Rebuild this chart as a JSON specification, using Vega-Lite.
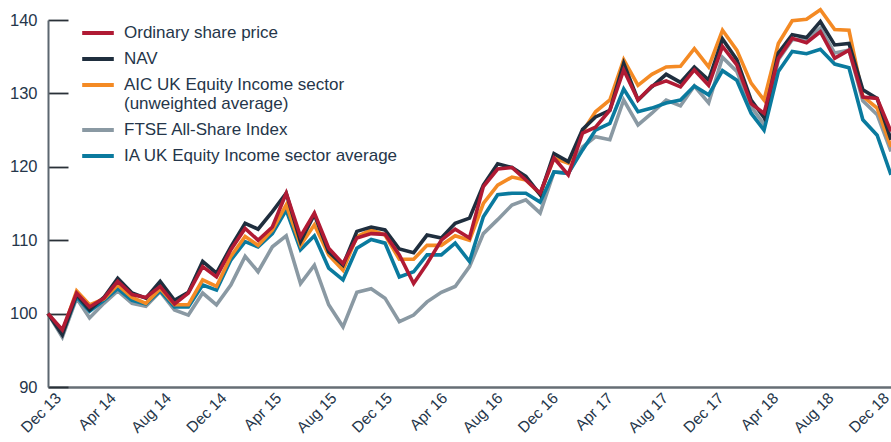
{
  "$schema": "https://vega.github.io/schema/vega-lite/v6.json",
  "width": 843,
  "height": 367,
  "autosize": {"type": "none"},
  "padding": {"left": 48, "top": 20, "right": 0, "bottom": 55},
  "background": "white",
  "config": {"view": {"stroke": null}, "font": "Liberation Sans"},
  "data": {"values": [
    {"m": "2013-12-01", "osp": 100, "nav": 100, "aic": 100, "ftse": 100, "ia": 100},
    {"m": "2014-01-01", "osp": 97.8, "nav": 97.1, "aic": 97.5, "ftse": 96.8, "ia": 97.3},
    {"m": "2014-02-01", "osp": 102.8, "nav": 102.6, "aic": 103.1, "ftse": 102.1, "ia": 102.3},
    {"m": "2014-03-01", "osp": 100.9, "nav": 100.5, "aic": 101.2, "ftse": 99.4, "ia": 100.3},
    {"m": "2014-04-01", "osp": 102.1, "nav": 102.2, "aic": 102.0, "ftse": 101.4, "ia": 101.8},
    {"m": "2014-05-01", "osp": 104.4, "nav": 104.8, "aic": 103.9, "ftse": 103.1, "ia": 103.4},
    {"m": "2014-06-01", "osp": 102.6, "nav": 102.8, "aic": 102.2, "ftse": 101.4, "ia": 101.8},
    {"m": "2014-07-01", "osp": 102.2, "nav": 102.1, "aic": 101.4, "ftse": 101.0, "ia": 101.3},
    {"m": "2014-08-01", "osp": 103.7, "nav": 104.4, "aic": 103.4, "ftse": 103.0, "ia": 103.1},
    {"m": "2014-09-01", "osp": 101.3, "nav": 101.8, "aic": 101.2, "ftse": 100.5, "ia": 100.9},
    {"m": "2014-10-01", "osp": 102.8, "nav": 102.9, "aic": 101.2, "ftse": 99.8, "ia": 100.9},
    {"m": "2014-11-01", "osp": 106.4, "nav": 107.1, "aic": 104.6, "ftse": 102.8, "ia": 103.9},
    {"m": "2014-12-01", "osp": 105.0, "nav": 105.5, "aic": 103.7, "ftse": 101.2, "ia": 103.2},
    {"m": "2015-01-01", "osp": 108.7, "nav": 109.1, "aic": 107.8, "ftse": 103.9, "ia": 107.3},
    {"m": "2015-02-01", "osp": 111.6, "nav": 112.3, "aic": 110.5, "ftse": 107.8, "ia": 109.8},
    {"m": "2015-03-01", "osp": 110.0, "nav": 111.5, "aic": 109.3, "ftse": 105.7, "ia": 109.1},
    {"m": "2015-04-01", "osp": 111.8, "nav": 113.9, "aic": 111.4, "ftse": 109.1, "ia": 110.9},
    {"m": "2015-05-01", "osp": 116.4, "nav": 116.4, "aic": 114.8, "ftse": 110.6, "ia": 114.1},
    {"m": "2015-06-01", "osp": 110.5, "nav": 109.8, "aic": 109.3, "ftse": 104.1, "ia": 108.7},
    {"m": "2015-07-01", "osp": 113.7, "nav": 113.5, "aic": 112.1, "ftse": 106.6, "ia": 110.6},
    {"m": "2015-08-01", "osp": 108.9, "nav": 108.4, "aic": 108.0, "ftse": 101.2, "ia": 106.2},
    {"m": "2015-09-01", "osp": 106.8, "nav": 106.6, "aic": 105.9, "ftse": 98.2, "ia": 104.6},
    {"m": "2015-10-01", "osp": 110.3, "nav": 111.2, "aic": 110.5, "ftse": 102.9, "ia": 108.9},
    {"m": "2015-11-01", "osp": 110.9, "nav": 111.8, "aic": 111.4, "ftse": 103.4, "ia": 110.1},
    {"m": "2015-12-01", "osp": 110.8, "nav": 111.4, "aic": 110.7, "ftse": 102.1, "ia": 109.6},
    {"m": "2016-01-01", "osp": 108.0, "nav": 108.8, "aic": 107.4, "ftse": 98.9, "ia": 105.0},
    {"m": "2016-02-01", "osp": 104.1, "nav": 108.3, "aic": 107.4, "ftse": 99.8, "ia": 105.7},
    {"m": "2016-03-01", "osp": 106.8, "nav": 110.7, "aic": 109.3, "ftse": 101.6, "ia": 108.0},
    {"m": "2016-04-01", "osp": 110.0, "nav": 110.3, "aic": 109.3, "ftse": 102.9, "ia": 108.0},
    {"m": "2016-05-01", "osp": 111.5, "nav": 112.3, "aic": 110.6, "ftse": 103.7, "ia": 109.6},
    {"m": "2016-06-01", "osp": 110.3, "nav": 113.0, "aic": 110.0, "ftse": 106.4, "ia": 107.1},
    {"m": "2016-07-01", "osp": 117.3, "nav": 117.5, "aic": 115.0, "ftse": 110.9, "ia": 113.2},
    {"m": "2016-08-01", "osp": 119.7, "nav": 120.4, "aic": 117.5, "ftse": 112.8, "ia": 116.2},
    {"m": "2016-09-01", "osp": 119.9, "nav": 119.9, "aic": 118.6, "ftse": 114.8, "ia": 116.4},
    {"m": "2016-10-01", "osp": 118.2, "nav": 118.7, "aic": 118.2, "ftse": 115.5, "ia": 116.4},
    {"m": "2016-11-01", "osp": 116.4, "nav": 116.2, "aic": 116.3, "ftse": 113.7, "ia": 115.2},
    {"m": "2016-12-01", "osp": 121.2, "nav": 121.8, "aic": 121.2, "ftse": 119.3, "ia": 119.3},
    {"m": "2017-01-01", "osp": 118.9, "nav": 120.7, "aic": 120.5, "ftse": 119.1, "ia": 119.1},
    {"m": "2017-02-01", "osp": 124.6, "nav": 125.1, "aic": 124.8, "ftse": 122.7, "ia": 122.3},
    {"m": "2017-03-01", "osp": 125.4, "nav": 126.8, "aic": 127.5, "ftse": 124.1, "ia": 125.0},
    {"m": "2017-04-01", "osp": 127.7, "nav": 127.7, "aic": 129.1, "ftse": 123.7, "ia": 125.9},
    {"m": "2017-05-01", "osp": 133.2, "nav": 134.1, "aic": 134.6, "ftse": 129.1, "ia": 130.6},
    {"m": "2017-06-01", "osp": 129.1, "nav": 129.1, "aic": 131.1, "ftse": 125.7, "ia": 127.5},
    {"m": "2017-07-01", "osp": 131.0, "nav": 130.9, "aic": 132.6, "ftse": 127.3, "ia": 128.0},
    {"m": "2017-08-01", "osp": 131.7, "nav": 132.6, "aic": 133.6, "ftse": 129.1, "ia": 128.7},
    {"m": "2017-09-01", "osp": 130.9, "nav": 131.5, "aic": 133.7, "ftse": 128.3, "ia": 129.1},
    {"m": "2017-10-01", "osp": 133.2, "nav": 133.6, "aic": 136.1, "ftse": 131.0, "ia": 131.0},
    {"m": "2017-11-01", "osp": 131.1, "nav": 131.8, "aic": 133.6, "ftse": 128.7, "ia": 129.8},
    {"m": "2017-12-01", "osp": 136.4, "nav": 137.4, "aic": 138.6, "ftse": 134.9, "ia": 133.1},
    {"m": "2018-01-01", "osp": 133.9, "nav": 134.6, "aic": 135.9, "ftse": 133.0, "ia": 131.8},
    {"m": "2018-02-01", "osp": 128.6, "nav": 129.1, "aic": 131.4, "ftse": 128.2, "ia": 127.3},
    {"m": "2018-03-01", "osp": 127.3, "nav": 126.7, "aic": 129.1, "ftse": 125.8, "ia": 125.0},
    {"m": "2018-04-01", "osp": 134.8, "nav": 135.5, "aic": 136.8, "ftse": 134.6, "ia": 133.0},
    {"m": "2018-05-01", "osp": 137.5, "nav": 138.0, "aic": 139.9, "ftse": 137.3, "ia": 135.7},
    {"m": "2018-06-01", "osp": 136.9, "nav": 137.6, "aic": 140.1, "ftse": 137.3, "ia": 135.4},
    {"m": "2018-07-01", "osp": 138.4, "nav": 139.8, "aic": 141.4, "ftse": 138.9, "ia": 136.0},
    {"m": "2018-08-01", "osp": 134.8, "nav": 136.6, "aic": 138.7, "ftse": 135.5, "ia": 134.0},
    {"m": "2018-09-01", "osp": 135.9, "nav": 136.8, "aic": 138.6, "ftse": 135.9, "ia": 133.5},
    {"m": "2018-10-01", "osp": 129.5, "nav": 130.5, "aic": 129.6, "ftse": 129.0, "ia": 126.4},
    {"m": "2018-11-01", "osp": 129.3, "nav": 129.3, "aic": 128.0, "ftse": 127.1, "ia": 124.3},
    {"m": "2018-12-01", "osp": 124.8, "nav": 123.7, "aic": 122.7, "ftse": 122.1, "ia": 118.9}
  ]},
  "transform": [{"fold": ["ftse", "ia", "aic", "nav", "osp"], "as": ["series", "value"]}],
  "mark": {"type": "line", "strokeWidth": 3.6},
  "encoding": {
    "x": {
      "field": "m", "type": "temporal", "timeUnit": "utcyearmonth",
      "scale": {"nice": false},
      "axis": {
        "title": null, "grid": false, "ticks": false,
        "values": [
          {"year": 2013, "month": 12, "date": 1, "utc": true},
          {"year": 2014, "month": 4, "date": 1, "utc": true},
          {"year": 2014, "month": 8, "date": 1, "utc": true},
          {"year": 2014, "month": 12, "date": 1, "utc": true},
          {"year": 2015, "month": 4, "date": 1, "utc": true},
          {"year": 2015, "month": 8, "date": 1, "utc": true},
          {"year": 2015, "month": 12, "date": 1, "utc": true},
          {"year": 2016, "month": 4, "date": 1, "utc": true},
          {"year": 2016, "month": 8, "date": 1, "utc": true},
          {"year": 2016, "month": 12, "date": 1, "utc": true},
          {"year": 2017, "month": 4, "date": 1, "utc": true},
          {"year": 2017, "month": 8, "date": 1, "utc": true},
          {"year": 2017, "month": 12, "date": 1, "utc": true},
          {"year": 2018, "month": 4, "date": 1, "utc": true},
          {"year": 2018, "month": 8, "date": 1, "utc": true},
          {"year": 2018, "month": 12, "date": 1, "utc": true}
        ],
        "labelExpr": "utcFormat(datum.value, '%b %y')",
        "labelAngle": -45, "labelAlign": "right", "labelBaseline": "middle",
        "labelPadding": 8,
        "labelOffset": {"condition": {"test": "datum.index >= 0", "expr": "10 - 15 * datum.index"}, "value": 0},
        "labelFontSize": 15.5, "labelColor": "#25364a", "labelOverlap": false,
        "labelFlush": false, "labelBound": false,
        "domainColor": "#666e75", "domainWidth": 2.5
      }
    },
    "y": {
      "field": "value", "type": "quantitative",
      "scale": {"domain": [90, 140], "nice": false, "zero": false},
      "axis": {
        "title": null, "grid": false, "values": [90, 100, 110, 120, 130, 140],
        "tickSize": -20, "tickColor": "#2a3138", "tickWidth": 1.8,
        "domainColor": "#5c6770", "domainWidth": 2,
        "labelFontSize": 16.5, "labelColor": "#25364a", "labelPadding": 31,
        "labelFlush": false, "labelBound": false
      }
    },
    "color": {
      "field": "series", "type": "nominal",
      "scale": {
        "domain": ["osp", "nav", "aic", "ftse", "ia"],
        "range": ["#b01a34", "#1f2e3e", "#f48a24", "#8a99a3", "#0a7a9e"]
      },
      "legend": {
        "orient": "none", "legendX": 32, "legendY": -5, "title": null,
        "symbolType": "stroke", "symbolStrokeWidth": 4, "symbolSize": 1000,
        "labelFontSize": 17, "labelColor": "#25364a", "labelOffset": 8,
        "rowPadding": 0, "labelLimit": 500,
        "labelExpr": "datum.value == 'osp' ? 'Ordinary share price' : datum.value == 'nav' ? 'NAV' : datum.value == 'aic' ? ['AIC UK Equity Income sector', '(unweighted average)'] : datum.value == 'ftse' ? 'FTSE All-Share Index' : 'IA UK Equity Income sector average'"
      }
    }
  }
}
